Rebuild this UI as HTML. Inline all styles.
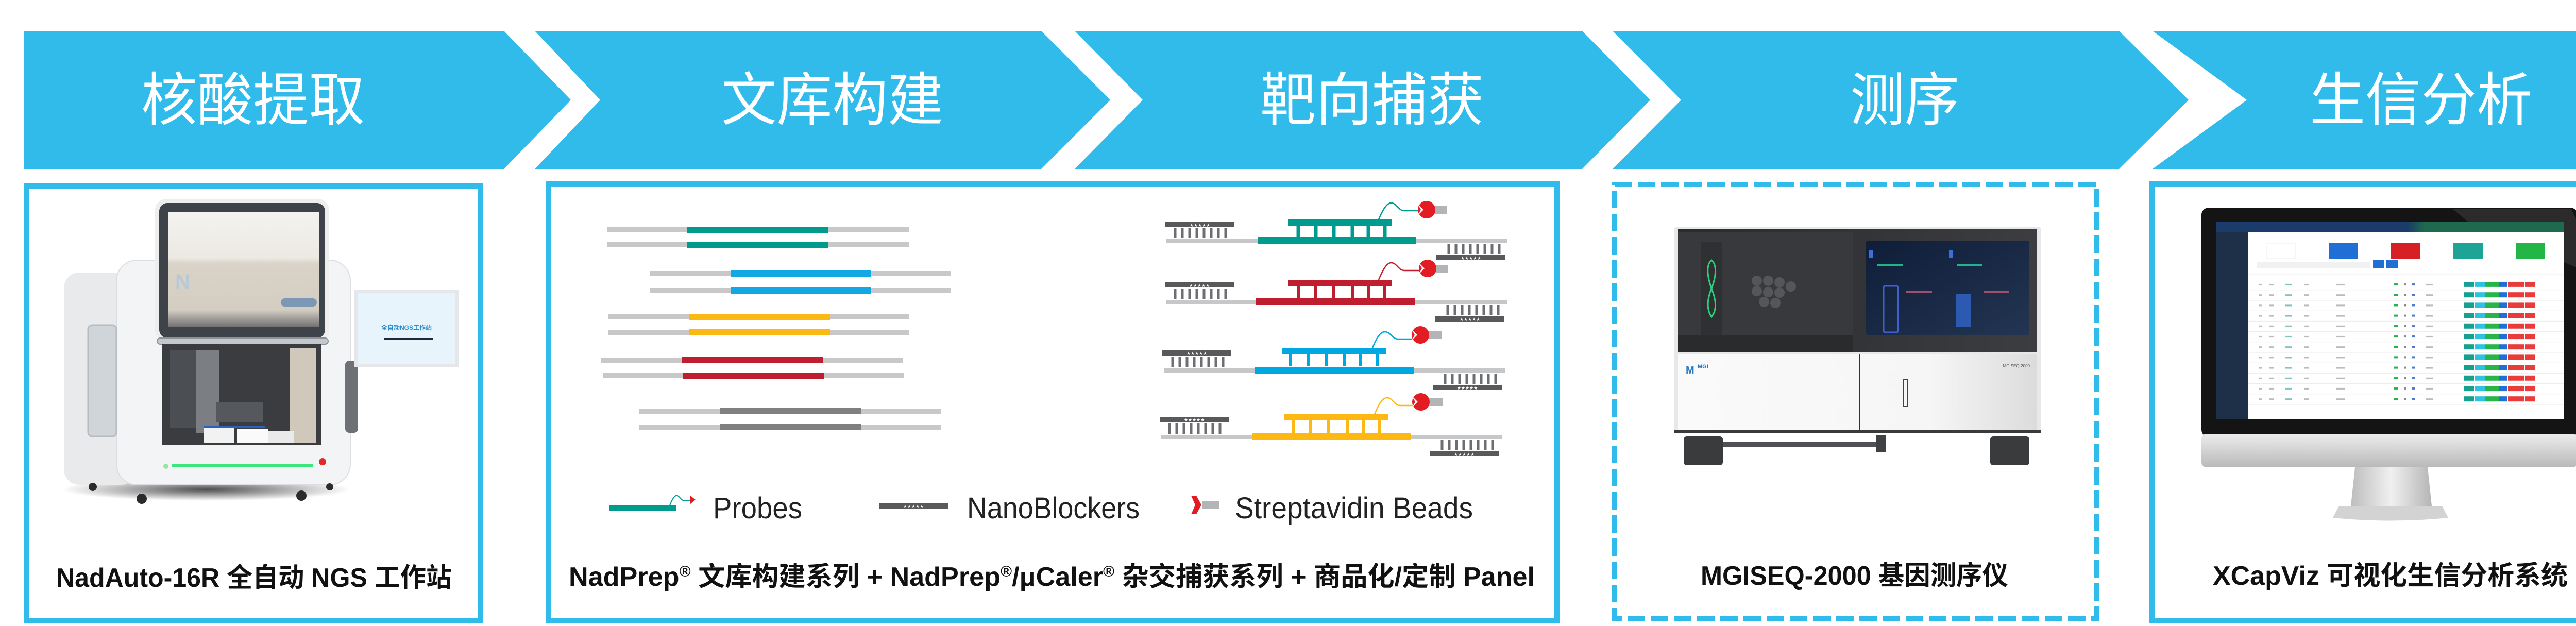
<!DOCTYPE html>
<html><head><meta charset="utf-8"><style>
html,body{margin:0;padding:0;background:#fff;}
svg{display:block;}
</style></head><body>
<svg xmlns="http://www.w3.org/2000/svg" width="5120" height="1215" viewBox="0 0 5120 1215">
<defs>
<linearGradient id="chin" x1="0" y1="0" x2="0" y2="1"><stop offset="0" stop-color="#ececec"/><stop offset="1" stop-color="#b9b9b9"/></linearGradient>
<linearGradient id="neck" x1="0" y1="0" x2="1" y2="0"><stop offset="0" stop-color="#bdbdbd"/><stop offset=".5" stop-color="#f0f0f0"/><stop offset="1" stop-color="#b5b5b5"/></linearGradient>
<linearGradient id="hood" x1="0" y1="0" x2="0" y2="1"><stop offset="0" stop-color="#f4f3f0"/><stop offset=".4" stop-color="#ece9e3"/><stop offset=".45" stop-color="#d9d3c8"/><stop offset=".85" stop-color="#d3cdc2"/><stop offset="1" stop-color="#6f6f70"/></linearGradient>
<linearGradient id="seqtop" x1="0" y1="0" x2="1" y2="0"><stop offset="0" stop-color="#2a2b2e"/><stop offset="1" stop-color="#3c3d40"/></linearGradient>
<linearGradient id="seqscr" x1="0" y1="0" x2="1" y2="1"><stop offset="0" stop-color="#0f1d38"/><stop offset="1" stop-color="#233552"/></linearGradient>
<linearGradient id="seqwhite" x1="0" y1="0" x2="1" y2="0"><stop offset="0" stop-color="#fafafa"/><stop offset=".7" stop-color="#f6f6f6"/><stop offset="1" stop-color="#dcdcdc"/></linearGradient>
<linearGradient id="mhead" x1="0" y1="0" x2="1" y2="0"><stop offset="0" stop-color="#1b3c6a"/><stop offset=".55" stop-color="#1b3c6a"/><stop offset=".6" stop-color="#1f6a4e"/><stop offset="1" stop-color="#1f6a4e"/></linearGradient>
<radialGradient id="shadow" cx=".5" cy=".5" r=".5"><stop offset="0" stop-color="#222" stop-opacity=".8"/><stop offset="1" stop-color="#222" stop-opacity="0"/></radialGradient>
<pattern id="mrows" x="4364" y="543" width="613" height="20.2" patternUnits="userSpaceOnUse">
<rect x="0" y="19.5" width="613" height="0.7" fill="#e5e5e5"/>
<rect x="20" y="8" width="6" height="3" fill="#bbb"/><rect x="40" y="8" width="10" height="3" fill="#bbb"/>
<rect x="72" y="8" width="12" height="3" fill="#7cc6c0"/><rect x="108" y="8" width="10" height="3" fill="#bbb"/>
<rect x="170" y="8" width="18" height="3" fill="#bbb"/>
<rect x="282" y="7" width="8" height="4" fill="#25b34b"/><rect x="302" y="7" width="4" height="4" fill="#888"/>
<rect x="318" y="7" width="6" height="4" fill="#4a7bd0"/><rect x="345" y="8" width="14" height="3" fill="#bbb"/>
<rect x="418" y="4" width="20" height="10" fill="#16a08f"/><rect x="439" y="4" width="20" height="10" fill="#2fc2e0"/>
<rect x="460" y="4" width="26" height="10" fill="#27b54a"/><rect x="487" y="4" width="16" height="10" fill="#1f6fd4"/>
<rect x="504" y="4" width="32" height="10" fill="#ea3b3b"/><rect x="537" y="4" width="20" height="10" fill="#ea3b3b"/>
</pattern>
</defs>

<!-- Banner chevrons -->
<g fill="#31bbeb">
<polygon points="46,60 978,60 1108,194 978,328 46,328"/>
<polygon points="1038,60 2021,60 2155,194 2021,328 1038,328 1165,194"/>
<polygon points="2086,60 3071,60 3203,194 3071,328 2086,328 2218,194"/>
<polygon points="3130,60 4113,60 4248,194 4113,328 3130,328 3263,194"/>
<polygon points="4178,60 5102,60 5102,328 4178,328 4361,194"/>
</g>
<g fill="#fff" font-family="'Liberation Sans','Noto Sans CJK SC',sans-serif" font-size="112" lengthAdjust="spacingAndGlyphs">
<text x="274" y="233" textLength="434" lengthAdjust="spacingAndGlyphs">核酸提取</text>
<text x="1400" y="233" textLength="431" lengthAdjust="spacingAndGlyphs">文库构建</text>
<text x="2446" y="233" textLength="434" lengthAdjust="spacingAndGlyphs">靶向捕获</text>
<text x="3591" y="233" textLength="212" lengthAdjust="spacingAndGlyphs">测序</text>
<text x="4483" y="233" textLength="432" lengthAdjust="spacingAndGlyphs">生信分析</text>
</g>

<!-- Boxes -->
<rect x="51" y="361" width="881" height="843" fill="none" stroke="#31bbeb" stroke-width="10"/>
<rect x="1064" y="357" width="1958" height="848" fill="none" stroke="#31bbeb" stroke-width="10"/>
<rect x="3134" y="358" width="936" height="842" fill="none" stroke="#31bbeb" stroke-width="10" stroke-dasharray="34 11"/>
<rect x="4177" y="357" width="920" height="848" fill="none" stroke="#31bbeb" stroke-width="10"/>

<!-- NadAuto device -->
<ellipse cx="400" cy="950" rx="280" ry="22" fill="url(#shadow)"/>
<rect x="124" y="529" width="140" height="412" rx="30" fill="#e9eaec"/>
<rect x="226" y="505" width="454" height="436" rx="40" fill="#f3f4f5" stroke="#dcdde0" stroke-width="2"/>
<rect x="171" y="631" width="55" height="216" rx="8" fill="#cfd5d9" stroke="#b8bcc0" stroke-width="3"/>
<rect x="301" y="386" width="338" height="278" rx="22" fill="#eeeeee"/>
<rect x="309" y="394" width="322" height="262" rx="16" fill="#3e4349"/>
<rect x="327" y="411" width="293" height="224" fill="url(#hood)"/>
<text x="340" y="560" font-family="'Liberation Sans',sans-serif" font-size="40" font-weight="bold" fill="#b8c8d6">N</text>
<rect x="545" y="579" width="70" height="16" rx="8" fill="#7c98b4"/>
<rect x="305" y="656" width="332" height="12" rx="6" fill="#c4c8cc" stroke="#8d9297" stroke-width="2"/>
<rect x="314" y="668" width="309" height="196" fill="#3a3c40"/>
<rect x="330" y="680" width="70" height="150" fill="#4b4e53"/>
<rect x="380" y="680" width="45" height="160" fill="#7b7e82"/>
<rect x="563" y="675" width="50" height="185" fill="#cfc8bb"/>
<rect x="420" y="780" width="90" height="40" fill="#55585c"/>
<rect x="395" y="830" width="60" height="30" fill="#f2f2f2"/>
<rect x="460" y="833" width="60" height="27" fill="#fafafa"/>
<rect x="520" y="836" width="50" height="24" fill="#eaeaea"/>
<rect x="395" y="826" width="120" height="5" fill="#2b62b8"/>
<line x1="333" y1="903" x2="607" y2="903" stroke="#3ce67e" stroke-width="6"/>
<circle cx="322" cy="905" r="5" fill="#9be3a8"/>
<circle cx="626" cy="896" r="7" fill="#e02a2a"/>
<rect x="670" y="700" width="25" height="140" rx="8" fill="#6d7176"/>
<rect x="688" y="562" width="202" height="151" fill="#e5e7ea"/>
<rect x="695" y="569" width="189" height="137" fill="#e8f4fb"/>
<text x="789" y="640" text-anchor="middle" font-family="'Liberation Sans','Noto Sans CJK SC',sans-serif" font-size="12" font-weight="bold" fill="#2b8ccb">全自动NGS工作站</text>
<rect x="745" y="656" width="95" height="4" fill="#1c2a3a"/>
<g fill="#2b2b2b"><circle cx="180" cy="945" r="8"/><circle cx="275" cy="968" r="10"/><circle cx="585" cy="962" r="10"/><circle cx="640" cy="945" r="7"/></g>

<text x="109" y="1139" textLength="768" lengthAdjust="spacingAndGlyphs" font-family="'Liberation Sans','Noto Sans CJK SC',sans-serif" font-size="52" font-weight="bold" fill="#111">NadAuto-16R 全自动 NGS 工作站</text>

<!-- Library strands -->
<g>
<rect x="1178" y="441" width="586" height="10" fill="#c8c8c8"/><rect x="1334" y="440" width="274" height="12" fill="#009b8f"/>
<rect x="1178" y="470" width="586" height="10" fill="#c8c8c8"/><rect x="1334" y="469" width="274" height="12" fill="#009b8f"/>
<rect x="1261" y="526" width="585" height="10" fill="#c8c8c8"/><rect x="1418" y="525" width="273" height="12" fill="#12a8e3"/>
<rect x="1261" y="559" width="585" height="10" fill="#c8c8c8"/><rect x="1418" y="558" width="273" height="12" fill="#12a8e3"/>
<rect x="1181" y="610" width="584" height="10" fill="#c8c8c8"/><rect x="1337" y="609" width="274" height="12" fill="#fbb817"/>
<rect x="1181" y="640" width="584" height="10" fill="#c8c8c8"/><rect x="1337" y="639" width="274" height="12" fill="#fbb817"/>
<rect x="1167" y="694" width="585" height="10" fill="#c8c8c8"/><rect x="1323" y="693" width="274" height="12" fill="#be1e2d"/>
<rect x="1170" y="724" width="585" height="10" fill="#c8c8c8"/><rect x="1326" y="723" width="274" height="12" fill="#be1e2d"/>
<rect x="1240" y="793" width="587" height="10" fill="#c8c8c8"/><rect x="1397" y="792" width="274" height="12" fill="#808082"/>
<rect x="1240" y="824" width="587" height="10" fill="#c8c8c8"/><rect x="1397" y="823" width="274" height="12" fill="#808082"/>
</g>

<!-- Capture rows -->
<g font-family="'DejaVu Sans',sans-serif">
<g transform="translate(2264,467)">
<rect x="0" y="-4" width="662" height="8" fill="#c6c7c9"/>
<rect x="177" y="-7" width="308" height="13" fill="#009b8f"/>
<rect x="236" y="-41" width="202" height="12" fill="#009b8f"/>
<path d="M256 -29V-6M290 -29V-6M325 -29V-6M361 -29V-6M392 -29V-6M424 -29V-6" stroke="#009b8f" stroke-width="7"/>
<rect x="-2" y="-36" width="134" height="10" fill="#58595b"/><text x="65" y="-27" font-size="9" fill="#fff" text-anchor="middle">★★★★★</text>
<path d="M17 -24V-5M31 -24V-5M45 -24V-5M59 -24V-5M73 -24V-5M87 -24V-5M101 -24V-5M115 -24V-5" stroke="#6d6e70" stroke-width="5"/>
<path d="M548 7V26M562 7V26M576 7V26M590 7V26M604 7V26M618 7V26M632 7V26M646 7V26" stroke="#6d6e70" stroke-width="5"/>
<rect x="524" y="28" width="134" height="10" fill="#58595b"/><text x="591" y="37" font-size="9" fill="#fff" text-anchor="middle">★★★★★</text>
<path d="M412 -41C420 -60 428 -74 437 -73C448 -72 450 -58 462 -58L490 -58" stroke="#009b8f" stroke-width="2.5" fill="none"/>
<rect x="517" y="-68" width="28" height="16" fill="#b3b4b6"/><circle cx="505" cy="-60" r="17" fill="#e31b23"/><polygon points="487,-72 499,-60 487,-48 494,-60" fill="#fff"/>
</g>
<g transform="translate(2264,586)">
<rect x="0" y="-4" width="662" height="8" fill="#c6c7c9"/>
<rect x="174" y="-7" width="308" height="13" fill="#be1e2d"/>
<rect x="236" y="-43" width="202" height="12" fill="#be1e2d"/>
<path d="M256 -31V-8M290 -31V-8M325 -31V-8M361 -31V-8M392 -31V-8M424 -31V-8" stroke="#be1e2d" stroke-width="6"/>
<rect x="-3" y="-38" width="134" height="10" fill="#58595b"/><text x="64" y="-29" font-size="9" fill="#fff" text-anchor="middle">★★★★★</text>
<path d="M17 -26V-6M31 -26V-6M45 -26V-6M59 -26V-6M73 -26V-6M87 -26V-6M101 -26V-6M115 -26V-6" stroke="#6d6e70" stroke-width="5"/>
<path d="M546 6V26M560 6V26M574 6V26M588 6V26M602 6V26M616 6V26M630 6V26M644 6V26" stroke="#6d6e70" stroke-width="5"/>
<rect x="522" y="28" width="134" height="10" fill="#58595b"/><text x="589" y="37" font-size="9" fill="#fff" text-anchor="middle">★★★★★</text>
<path d="M412 -43C420 -62 428 -77 437 -76C448 -75 450 -61 462 -61L490 -61" stroke="#be1e2d" stroke-width="2.5" fill="none"/>
<rect x="519" y="-72" width="28" height="16" fill="#b3b4b6"/><circle cx="507" cy="-65" r="17" fill="#e31b23"/><polygon points="489,-77 501,-65 489,-53 496,-65" fill="#fff"/>
</g>
<g transform="translate(2259,719)">
<rect x="0" y="-4" width="662" height="8" fill="#c6c7c9"/>
<rect x="177" y="-7" width="308" height="13" fill="#00a7e1"/>
<rect x="229" y="-44" width="202" height="12" fill="#00a7e1"/>
<path d="M246 -32V-8M280 -32V-8M315 -32V-8M351 -32V-8M382 -32V-8M414 -32V-8" stroke="#00a7e1" stroke-width="6"/>
<rect x="-3" y="-39" width="134" height="10" fill="#58595b"/><text x="64" y="-30" font-size="9" fill="#fff" text-anchor="middle">★★★★★</text>
<path d="M17 -27V-6M31 -27V-6M45 -27V-6M59 -27V-6M73 -27V-6M87 -27V-6M101 -27V-6M115 -27V-6" stroke="#6d6e70" stroke-width="5"/>
<path d="M546 6V26M560 6V26M574 6V26M588 6V26M602 6V26M616 6V26M630 6V26M644 6V26" stroke="#6d6e70" stroke-width="5"/>
<rect x="522" y="28" width="134" height="10" fill="#58595b"/><text x="589" y="37" font-size="9" fill="#fff" text-anchor="middle">★★★★★</text>
<path d="M405 -44C413 -63 420 -76 430 -75C441 -74 443 -61 455 -61L483 -61" stroke="#00a7e1" stroke-width="2.5" fill="none"/>
<rect x="512" y="-77" width="28" height="16" fill="#b3b4b6"/><circle cx="498" cy="-69" r="17" fill="#e31b23"/><polygon points="480,-81 492,-69 480,-57 487,-69" fill="#fff"/>
</g>
<g transform="translate(2253,848)">
<rect x="0" y="-4" width="662" height="8" fill="#c6c7c9"/>
<rect x="177" y="-7" width="308" height="13" fill="#fdb813"/>
<rect x="239" y="-44" width="202" height="12" fill="#fdb813"/>
<path d="M257 -32V-8M291 -32V-8M326 -32V-8M362 -32V-8M393 -32V-8M425 -32V-8" stroke="#fdb813" stroke-width="6"/>
<rect x="-2" y="-39" width="134" height="10" fill="#58595b"/><text x="65" y="-30" font-size="9" fill="#fff" text-anchor="middle">★★★★★</text>
<path d="M17 -27V-6M31 -27V-6M45 -27V-6M59 -27V-6M73 -27V-6M87 -27V-6M101 -27V-6M115 -27V-6" stroke="#6d6e70" stroke-width="5"/>
<path d="M546 6V26M560 6V26M574 6V26M588 6V26M602 6V26M616 6V26M630 6V26M644 6V26" stroke="#6d6e70" stroke-width="5"/>
<rect x="522" y="28" width="134" height="10" fill="#58595b"/><text x="589" y="37" font-size="9" fill="#fff" text-anchor="middle">★★★★★</text>
<path d="M415 -44C423 -63 430 -77 440 -76C451 -75 453 -61 465 -61L493 -61" stroke="#fdb813" stroke-width="2.5" fill="none"/>
<rect x="520" y="-76" width="28" height="16" fill="#b3b4b6"/><circle cx="505" cy="-68" r="17" fill="#e31b23"/><polygon points="487,-80 499,-68 487,-56 494,-68" fill="#fff"/>
</g>
</g>

<!-- Legend -->
<rect x="1183" y="981" width="129" height="10" fill="#009b8f"/>
<path d="M1300 981C1305 968 1310 960 1315 962C1320 964 1322 972 1330 972L1340 972" stroke="#009b8f" stroke-width="2" fill="none"/>
<polygon points="1340,962 1350,970 1340,978" fill="#e31b23"/>
<text x="1384" y="1006" textLength="173" lengthAdjust="spacingAndGlyphs" font-family="'Liberation Sans',sans-serif" font-size="58" fill="#222">Probes</text>
<rect x="1706" y="977" width="134" height="10" fill="#58595b"/>
<text x="1773" y="986" font-family="'DejaVu Sans',sans-serif" font-size="9" fill="#fff" text-anchor="middle">★★★★★</text>
<text x="1877" y="1006" textLength="335" lengthAdjust="spacingAndGlyphs" font-family="'Liberation Sans',sans-serif" font-size="58" fill="#222">NanoBlockers</text>
<polygon points="2312,962 2322,962 2332,980 2322,998 2312,998 2320,980" fill="#e31b23"/>
<rect x="2334" y="972" width="32" height="16" fill="#b3b4b6"/>
<text x="2397" y="1006" textLength="462" lengthAdjust="spacingAndGlyphs" font-family="'Liberation Sans',sans-serif" font-size="58" fill="#222">Streptavidin Beads</text>

<text x="1104" y="1137" textLength="1875" lengthAdjust="spacingAndGlyphs" font-family="'Liberation Sans','Noto Sans CJK SC',sans-serif" font-size="52" font-weight="bold" fill="#111">NadPrep<tspan font-size="30" dy="-18">®</tspan><tspan dy="18"> 文库构建系列 + NadPrep</tspan><tspan font-size="30" dy="-18">®</tspan><tspan dy="18">/μCaler</tspan><tspan font-size="30" dy="-18">®</tspan><tspan dy="18"> 杂交捕获系列 + 商品化/定制 Panel</tspan></text>

<!-- Sequencer -->
<rect x="3249" y="440" width="713" height="400" rx="6" fill="#e8e8e8"/>
<rect x="3257" y="445" width="696" height="238" fill="url(#seqtop)"/>
<rect x="3257" y="450" width="339" height="200" fill="#38393c"/>
<rect x="3302" y="470" width="40" height="180" fill="#2f3032"/>
<path d="M3322 505C3310 515 3315 540 3322 560C3330 580 3334 600 3322 615C3312 600 3314 580 3322 560C3330 540 3334 515 3322 505Z" fill="none" stroke="#2ecf7c" stroke-width="3"/>
<g fill="#555659"><circle cx="3410" cy="545" r="10"/><circle cx="3432" cy="545" r="10"/><circle cx="3454" cy="548" r="10"/><circle cx="3410" cy="565" r="10"/><circle cx="3432" cy="567" r="10"/><circle cx="3454" cy="568" r="10"/><circle cx="3476" cy="556" r="10"/><circle cx="3424" cy="586" r="10"/><circle cx="3446" cy="588" r="10"/></g>
<rect x="3257" y="650" width="339" height="33" fill="#2a2b2d"/>
<rect x="3622" y="467" width="317" height="183" rx="4" fill="url(#seqscr)"/>
<rect x="3628" y="486" width="8" height="14" fill="#3d6ee0"/><rect x="3783" y="486" width="8" height="14" fill="#3d6ee0"/>
<rect x="3644" y="512" width="50" height="4" fill="#23b28a"/><rect x="3798" y="512" width="50" height="4" fill="#23b28a"/>
<rect x="3656" y="555" width="28" height="90" rx="3" fill="none" stroke="#4060d0" stroke-width="3"/>
<rect x="3796" y="570" width="30" height="65" fill="#2b5ab0"/>
<rect x="3700" y="565" width="50" height="3" fill="#a0506a"/><rect x="3850" y="565" width="50" height="3" fill="#a0506a"/>
<rect x="3257" y="687" width="696" height="148" fill="url(#seqwhite)"/>
<line x1="3610" y1="687" x2="3610" y2="835" stroke="#333" stroke-width="2"/>
<text x="3272" y="725" font-family="'Liberation Sans',sans-serif" font-size="20" font-weight="bold" fill="#2a7bc0">M</text>
<text x="3295" y="715" font-family="'Liberation Sans',sans-serif" font-size="11" font-weight="bold" fill="#2a7bc0">MGI</text>
<text x="3940" y="713" text-anchor="end" font-family="'Liberation Sans',sans-serif" font-size="8" fill="#555">MGISEQ-2000</text>
<rect x="3694" y="737" width="8" height="52" fill="none" stroke="#444" stroke-width="2"/>
<rect x="3249" y="835" width="713" height="6" fill="#3a3a3a"/>
<rect x="3268" y="847" width="76" height="56" rx="6" fill="#3a3b3d"/>
<rect x="3863" y="847" width="76" height="56" rx="6" fill="#3a3b3d"/>
<rect x="3344" y="857" width="307" height="10" fill="#505154"/>
<rect x="3641" y="845" width="19" height="32" fill="#404144"/>

<text x="3301" y="1135" textLength="597" lengthAdjust="spacingAndGlyphs" font-family="'Liberation Sans','Noto Sans CJK SC',sans-serif" font-size="52" font-weight="bold" fill="#111">MGISEQ-2000 基因测序仪</text>

<!-- Monitor -->
<rect x="4273" y="403" width="730" height="445" rx="14" fill="#141414"/>
<polygon points="4760,405 4990,405 5003,430 5003,520 4790,430" fill="#3a3a3a" opacity=".6"/>
<rect x="4301" y="430" width="676" height="383" fill="#fff"/>
<rect x="4301" y="430" width="676" height="20" fill="url(#mhead)"/>
<rect x="4301" y="450" width="63" height="363" fill="#1e2f48"/>
<rect x="4400" y="472" width="56" height="30" fill="#fff" stroke="#eee"/>
<rect x="4520" y="472" width="57" height="30" fill="#1f6fd4"/>
<rect x="4641" y="472" width="57" height="30" fill="#d71f26"/>
<rect x="4762" y="472" width="57" height="30" fill="#1ea395"/>
<rect x="4883" y="472" width="57" height="30" fill="#24b547"/>
<rect x="4606" y="505" width="22" height="16" fill="#1f6fd4"/><rect x="4632" y="505" width="23" height="16" fill="#1f6fd4"/>
<rect x="4380" y="508" width="220" height="12" fill="#f1f1f1"/>
<rect x="4364" y="530" width="613" height="5" fill="#fafafa"/>
<rect x="4364" y="543" width="613" height="243" fill="url(#mrows)"/>
<rect x="4273" y="842" width="730" height="65" rx="10" fill="url(#chin)"/>
<polygon points="4571,907 4712,907 4720,982 4563,982" fill="url(#neck)"/>
<path d="M4540 982 L4740 982 L4752 1005 Q4640 1016 4528 1005 Z" fill="#d3d3d3"/>

<text x="4295" y="1135" textLength="689" lengthAdjust="spacingAndGlyphs" font-family="'Liberation Sans','Noto Sans CJK SC',sans-serif" font-size="52" font-weight="bold" fill="#111">XCapViz 可视化生信分析系统</text>
</svg>
</body></html>
